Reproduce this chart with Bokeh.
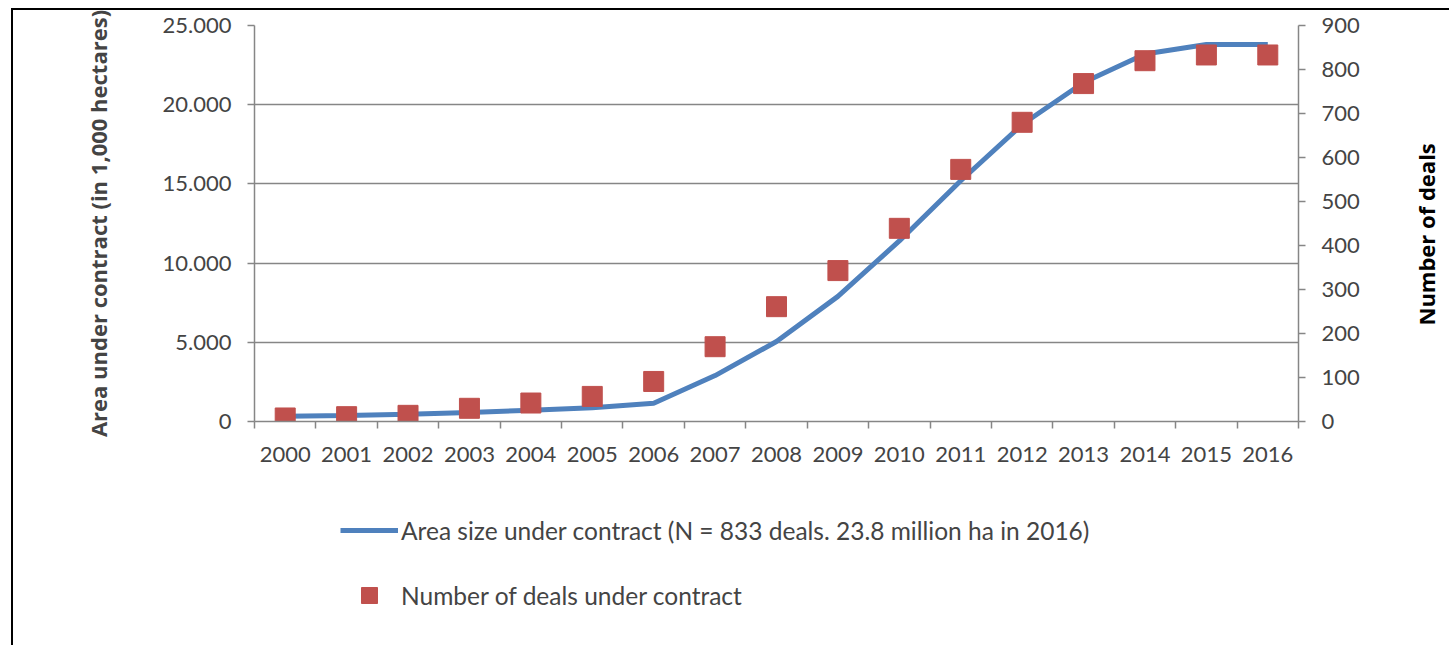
from bokeh.plotting import figure
from bokeh.layouts import column, row
from bokeh.models import (Range1d, LinearAxis, FixedTicker, Legend, LegendItem, Title)
from bokeh.embed import file_html
from bokeh.resources import INLINE

years = [str(y) for y in range(2000, 2017)]
area = [330, 380, 460, 570, 715, 865, 1155, 2900, 5050, 7900, 11400,
        15200, 18750, 21400, 23200, 23800, 23800]
deals = [8, 11, 14, 30, 42, 57, 91, 170, 261, 343, 439, 573, 680, 768,
         820, 833, 833]
left_ticks = [0, 5000, 10000, 15000, 20000, 25000]
left_labels = ["0", "5.000", "10.000", "15.000", "20.000", "25.000"]
right_ticks = list(range(0, 1000, 100))
series_names = ["Area size under contract (N = 833 deals. 23.8 million ha in 2016)",
                "Number of deals under contract"]
left_title = "Area under contract (in 1,000 hectares)"
right_title = "Number of deals"

FONT = "Lato"
BFONT = "Open Sans"
GRAY = "#868686"
BLUE = "#4F81BD"
RED = "#C0504D"
W = 1436
CW = 1391

xs = list(range(len(years)))

chart = figure(width=CW, height=471, output_backend="svg", toolbar_location=None,
               x_range=Range1d(-0.5, len(years) - 0.5), y_range=Range1d(0, 25000),
               min_border_left=241, min_border_right=CW - 241 - 1044, min_border_top=15,
               min_border_bottom=60)
chart.outline_line_color = None
chart.xaxis.visible = False
chart.yaxis.visible = False
chart.xgrid.visible = False

chart.extra_y_ranges = {"deals": Range1d(0, 900)}

# bottom axis
xa = LinearAxis(ticker=FixedTicker(ticks=xs, minor_ticks=[i - 0.5 for i in range(len(years) + 1)]))
xa.major_label_overrides = {i: y for i, y in enumerate(years)}
xa.major_tick_line_color = None
xa.minor_tick_line_color = GRAY
xa.minor_tick_line_width = 1.5
xa.minor_tick_out = 7
xa.minor_tick_in = 0
xa.axis_line_color = GRAY
xa.axis_line_width = 1.5
xa.major_label_text_font = FONT
xa.major_label_text_font_size = "22px"
xa.major_label_standoff = 18
chart.add_layout(xa, "below")

# left axis
ya = LinearAxis(ticker=FixedTicker(ticks=left_ticks, minor_ticks=[]))
ya.major_label_overrides = {t: l for t, l in zip(left_ticks, left_labels)}
ya.axis_label = left_title
ya.axis_label_text_font = BFONT
ya.axis_label_text_font_style = "bold"
ya.axis_label_text_font_size = "22px"
ya.axis_label_standoff = 47
ya.major_label_text_font = FONT
ya.major_label_text_font_size = "22px"
ya.major_label_standoff = 16
ya.major_tick_out = 7
ya.major_tick_in = 0
ya.major_tick_line_color = GRAY
ya.major_tick_line_width = 1.5
ya.minor_tick_line_color = None
ya.axis_line_color = GRAY
ya.axis_line_width = 1.5
chart.add_layout(ya, "left")

# right axis
ra = LinearAxis(y_range_name="deals", ticker=FixedTicker(ticks=right_ticks, minor_ticks=[]))
ra.major_label_text_font = FONT
ra.major_label_text_font_size = "22px"
ra.major_label_standoff = 16
ra.major_tick_out = 7
ra.major_tick_in = 0
ra.major_tick_line_color = GRAY
ra.major_tick_line_width = 1.5
ra.minor_tick_line_color = None
ra.axis_line_color = GRAY
ra.axis_line_width = 1.5
chart.add_layout(ra, "right")

chart.ygrid.ticker = FixedTicker(ticks=left_ticks, minor_ticks=[])
chart.ygrid.grid_line_color = GRAY
chart.ygrid.grid_line_width = 1.5

chart.line(xs, area, line_color=BLUE, line_width=5)
chart.scatter(xs, deals, y_range_name="deals", marker="square", size=20,
              fill_color=RED, line_color=RED)

# right-hand axis title (reads bottom to top, as in the reference)
side = figure(width=W - CW, height=471, output_backend="svg", toolbar_location=None,
              x_range=Range1d(0, 1), y_range=Range1d(0, 1),
              min_border_left=0, min_border_right=0, min_border_top=15,
              min_border_bottom=60)
side.axis.visible = False
side.grid.visible = False
side.outline_line_color = None
side.add_layout(Title(text=right_title, align="left", offset=96, standoff=8,
                      text_font=BFONT, text_font_style="bold", text_font_size="22px",
                      text_color="black"), "left")

# legend panel below the chart (its renderers use the same data, kept out of view)
leg = figure(width=W, height=164, output_backend="svg", toolbar_location=None,
             x_range=Range1d(100, 101), y_range=Range1d(100, 101),
             min_border_left=241, min_border_right=0,
             min_border_top=0, min_border_bottom=0)
leg.axis.visible = False
leg.grid.visible = False
leg.outline_line_color = None
lr = leg.line(xs, area, line_color=BLUE, line_width=5)
sr = leg.scatter(xs, deals, marker="square", size=20, fill_color=RED, line_color=RED)
legend = Legend(items=[LegendItem(label=series_names[0], renderers=[lr]),
                       LegendItem(label=series_names[1], renderers=[sr])],
                location=(86, 30), orientation="vertical", glyph_width=58,
                glyph_height=40, label_height=40, spacing=25, padding=0, margin=0,
                border_line_color=None, background_fill_alpha=0,
                label_text_font=FONT, label_text_font_size="24.5px", label_standoff=3)
leg.add_layout(legend)

p = column(row(chart, side, spacing=0), leg, spacing=0)
p.styles = {"border-left": "2px solid black", "border-top": "2px solid black",
            "margin-left": "11px", "margin-top": "8px"}

open("out.html", "w").write(file_html(p, INLINE))
